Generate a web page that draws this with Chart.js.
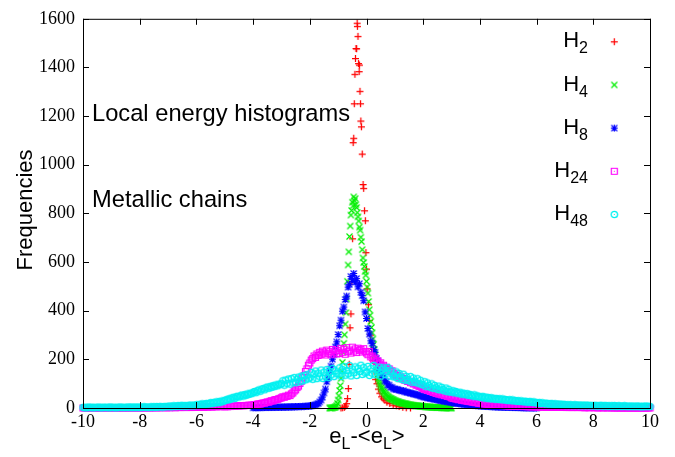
<!DOCTYPE html>
<html>
<head>
<meta charset="utf-8">
<script src="https://cdn.jsdelivr.net/npm/chart.js@4.4.1/dist/chart.umd.min.js"></script>
<style>
  html, body { margin: 0; padding: 0; background: #fff; }
  canvas { display: block; }
</style>
</head>
<body>
<canvas id="histo" width="675" height="457"></canvas>
<script>
// H2: sparse, irregular bins -> explicit (x, count) pairs
const h2X = [-0.90, -0.84, -0.78, -0.74, -0.70, -0.67, -0.64, -0.61, -0.58, -0.55,
  -0.52, -0.49, -0.47, -0.45, -0.43, -0.41, -0.39, -0.37, -0.35, -0.33,
  -0.32, -0.30, -0.28, -0.26, -0.25, -0.23, -0.21, -0.20, -0.18, -0.15,
  -0.12, -0.10, -0.07, -0.04, -0.02, 0.00, 0.02, 0.07, 0.10, 0.14,
  0.18, 0.22, 0.27, 0.32, 0.37, 0.42, 0.47, 0.53, 0.59, 0.65,
  0.72, 0.82, 0.94, 1.05, 1.15, 1.28, 1.40, 1.55];
const h2Y = [0, 1, 3, 8, 18, 39, 80, 180, 330, 387,
  520, 696, 1091, 1109, 1251, 1372, 1437, 1478, 1477, 1582,
  1569, 1528, 1416, 1383, 1410, 1302, 1251, 1180, 1156, 1044,
  919, 903, 811, 770, 639, 571, 490, 425, 360, 300,
  245, 195, 150, 118, 100, 78, 61, 46, 38, 32,
  24, 19, 12, 9, 6, 3, 1, 0];

// H4: bins of 0.025 starting at -1.3
const h4Start = -1.3, h4Step = 0.025;
const h4Counts = [0, 0, 1, 0, 1, 2, 2, 3, 4, 6,
  11, 19, 33, 50, 72, 92, 121, 152, 188, 229,
  266, 301, 345, 392, 448, 521, 588, 642, 705, 748,
  793, 812, 846, 831, 868, 852, 861, 836, 824, 803,
  786, 769, 744, 731, 702, 684, 651, 617, 598, 582,
  561, 546, 521, 497, 472, 438, 404, 381, 356, 331,
  309, 284, 262, 240, 219, 195, 172, 153, 136, 121,
  110, 99, 91, 84, 78, 73, 68, 64, 60, 56,
  53, 50, 47, 45, 42, 41, 39, 38, 36, 35,
  33, 32, 30, 29, 28, 27, 26, 25, 24, 23,
  22, 21, 21, 20, 19, 18, 18, 17, 16, 16,
  15, 14, 14, 13, 13, 12, 12, 11, 11, 11,
  10, 10, 9, 9, 9, 8, 8, 8, 7, 7,
  7, 7, 6, 6, 6, 5, 5, 5, 5, 4,
  4, 4, 4, 4, 3, 3, 3, 3, 3, 3,
  2, 2, 2, 2, 2, 2, 2, 2, 1, 2,
  1, 1, 1, 1, 1, 1, 1, 0, 1, 1,
  0, 1, 0];

// H8: bins of 0.05 starting at -4
const h8Start = -4, h8Step = 0.05;
const h8Counts = [1, 2, 1, 2, 2, 1, 2, 3, 2, 2, 3, 2, 3, 3, 2, 3, 4, 3, 3, 4,
  3, 4, 4, 3, 5, 4, 4, 5, 5, 4, 6, 5, 6, 6, 5, 7, 6, 7, 8, 7,
  8, 9, 10, 12, 13, 16, 19, 25, 33, 45, 62, 78, 108, 125, 153, 172, 201, 219, 251, 272,
  302, 338, 361, 398, 415, 446, 460, 497, 509, 541, 528, 553, 517, 532, 498, 511, 476, 462, 441, 395,
  368, 327, 304, 276, 266, 241, 229, 204, 193, 166, 155, 134, 128, 112, 108, 95, 94, 86, 85, 79,
  78, 76, 77, 73, 72, 70, 71, 67, 66, 64, 63, 61, 60, 58, 57, 55, 54, 52, 50, 48,
  46, 45, 44, 42, 41, 40, 39, 37, 36, 35, 34, 32, 31, 30, 29, 28, 27, 26, 25, 24,
  23, 22, 21, 20, 19, 18, 18, 17, 16, 15, 15, 14, 13, 13, 12, 11, 11, 10, 10, 9,
  9, 8, 8, 7, 7, 7, 6, 6, 6, 5, 5, 5, 5, 4, 4, 4, 4, 3, 3, 3,
  3, 3, 3, 2, 2, 2, 2, 2, 2, 1, 2, 1, 1, 1, 1, 1, 1, 1, 0, 1, 0];

// H24: bins of 0.05 over the full range
const h24Start = -10, h24Step = 0.05;
const h24Counts = [0, 1, 0, 0, 1, 0, 0, 1, 0, 0, 1, 0, 0, 0, 1, 0, 1, 0, 0, 1,
  0, 0, 1, 0, 1, 0, 0, 1, 0, 1, 0, 1, 0, 1, 1, 0, 1, 0, 1, 1,
  0, 1, 1, 0, 1, 1, 2, 0, 1, 1, 2, 1, 1, 2, 1, 2, 1, 2, 2, 1,
  2, 1, 2, 2, 3, 1, 2, 3, 2, 2, 3, 2, 3, 2, 3, 3, 2, 4, 3, 3,
  3, 4, 3, 4, 5, 3, 4, 5, 4, 5, 6, 4, 5, 6, 5, 6, 7, 5, 6, 7,
  5, 6, 5, 7, 6, 7, 8, 7, 8, 9, 8, 9, 10, 9, 10, 11, 10, 12, 11, 12,
  12, 14, 13, 16, 17, 16, 19, 21, 20, 23, 25, 24, 28, 30, 29, 33, 35, 34, 38, 40,
  42, 46, 44, 49, 48, 53, 51, 58, 62, 70, 75, 84, 90, 101, 110, 124, 133, 150, 161, 176,
  185, 197, 203, 214, 208, 222, 216, 229, 221, 234, 226, 218, 238, 225, 232, 219, 241, 227, 235, 222,
  236, 224, 245, 229, 240, 221, 248, 232, 238, 226, 250, 234, 243, 228, 246, 236, 241, 230, 244, 233,
  226, 219, 232, 210, 214, 200, 205, 190, 194, 181, 186, 172, 176, 165, 168, 157, 161, 150, 153, 143,
  138, 132, 134, 126, 128, 120, 122, 114, 116, 109, 110, 104, 105, 99, 100, 94, 95, 89, 90, 84,
  80, 76, 78, 72, 73, 68, 69, 64, 65, 60, 61, 57, 58, 54, 55, 51, 52, 48, 49, 45,
  42, 39, 40, 37, 37, 34, 35, 32, 32, 30, 30, 28, 28, 26, 26, 24, 24, 22, 22, 20,
  19, 18, 18, 17, 17, 16, 15, 15, 14, 14, 13, 13, 12, 12, 11, 11, 10, 10, 10, 9,
  9, 8, 9, 8, 8, 7, 8, 7, 7, 6, 7, 6, 6, 6, 5, 6, 5, 5, 6, 5,
  5, 4, 5, 4, 4, 4, 5, 3, 4, 4, 3, 4, 3, 4, 3, 3, 4, 3, 3, 3,
  3, 2, 3, 2, 3, 2, 2, 3, 2, 2, 3, 2, 2, 2, 1, 2, 2, 1, 2, 2,
  2, 1, 2, 1, 1, 2, 1, 1, 2, 1, 1, 1, 2, 1, 1, 0, 1, 1, 1, 0,
  1, 0, 1, 1, 0, 1, 0, 1, 0, 0, 1, 0, 0, 1, 0, 0, 1, 0, 0, 1, 0];

// H48: bins of 0.05 over the full range
const h48Start = -10, h48Step = 0.05;
const h48Counts = [2, 3, 1, 2, 4, 2, 3, 1, 3, 2, 2, 4, 2, 1, 3, 3, 2, 3, 1, 4,
  3, 2, 3, 1, 3, 2, 4, 3, 2, 3, 2, 3, 4, 2, 4, 3, 2, 4, 3, 2,
  4, 3, 3, 5, 3, 4, 3, 3, 5, 4, 5, 3, 6, 4, 5, 6, 4, 6, 5, 6,
  6, 8, 5, 7, 9, 6, 8, 10, 7, 9, 11, 8, 10, 8, 11, 9, 12, 10, 9, 12,
  13, 12, 15, 14, 17, 14, 16, 19, 16, 19, 22, 18, 23, 21, 25, 22, 27, 24, 29, 28,
  31, 34, 33, 38, 36, 41, 44, 39, 46, 48, 45, 50, 53, 49, 55, 52, 58, 56, 61, 59,
  65, 68, 63, 71, 74, 69, 77, 80, 75, 83, 86, 81, 89, 85, 92, 88, 95, 91, 98, 96,
  100, 112, 94, 115, 101, 119, 98, 121, 106, 125, 104, 118, 127, 108, 131, 112, 134, 116, 137, 120,
  124, 146, 118, 140, 152, 121, 143, 128, 156, 122, 147, 131, 158, 125, 150, 136, 162, 129, 153, 141,
  140, 165, 130, 157, 170, 135, 154, 141, 174, 132, 160, 145, 169, 134, 163, 150, 176, 138, 166, 144,
  148, 171, 134, 162, 143, 175, 137, 160, 147, 168, 131, 157, 165, 138, 152, 166, 131, 155, 140, 128,
  129, 148, 121, 142, 126, 117, 139, 114, 130, 118, 111, 129, 106, 123, 110, 104, 120, 100, 114, 97,
  95, 108, 88, 103, 92, 85, 99, 81, 93, 83, 77, 90, 74, 85, 76, 70, 82, 67, 77, 66,
  66, 71, 62, 68, 63, 59, 65, 57, 61, 58, 54, 59, 52, 56, 51, 49, 54, 47, 50, 46,
  46, 43, 48, 41, 45, 40, 43, 38, 42, 37, 40, 36, 39, 35, 38, 34, 37, 33, 35, 32,
  32, 34, 30, 33, 29, 31, 28, 30, 27, 29, 26, 28, 25, 27, 24, 26, 25, 23, 25, 22,
  22, 20, 23, 19, 21, 18, 20, 17, 19, 16, 18, 17, 15, 17, 16, 14, 16, 15, 13, 15,
  14, 12, 13, 12, 13, 12, 11, 13, 12, 11, 12, 10, 12, 11, 10, 12, 10, 11, 10, 9,
  10, 9, 11, 8, 10, 9, 11, 8, 9, 10, 8, 9, 7, 9, 8, 10, 7, 8, 9, 7,
  8, 7, 9, 6, 8, 7, 6, 8, 7, 6, 7, 8, 6, 7, 5, 7, 6, 8, 6, 7, 6];

const keySubs = ['2', '4', '8', '24', '48'];
const xTicks = { min: -10, max: 10, step: 2 };
const yTicks = { min: 0, max: 1600, step: 200 };

const sans = 'Liberation Sans';
const serif = 'Liberation Serif';

function binned(start, step, counts) {
  return counts.map((c, i) => ({ x: +(start + i * step).toFixed(3), y: c }));
}
function paired(xs, ys) {
  return xs.map((x, i) => ({ x: x, y: ys[i] }));
}

// gnuplot-like point glyphs, drawn once into small canvases
function glyph(color, width, paint) {
  const c = document.createElement('canvas');
  c.width = 9;
  c.height = 9;
  const g = c.getContext('2d');
  g.strokeStyle = color;
  g.fillStyle = color;
  g.lineWidth = width;
  g.beginPath();
  paint(g);
  g.stroke();
  return c;
}
const plus = (g) => { g.moveTo(1, 4.5); g.lineTo(8, 4.5); g.moveTo(4.5, 1); g.lineTo(4.5, 8); };
const cross = (g) => { g.moveTo(1.5, 1.5); g.lineTo(7.5, 7.5); g.moveTo(7.5, 1.5); g.lineTo(1.5, 7.5); };

const marks = [
  glyph('#ff0000', 1.25, plus),
  glyph('#00ee00', 1.2, cross),
  glyph('#0000ff', 1.2, (g) => { plus(g); cross(g); }),
  glyph('#ff00ff', 1.2, (g) => { g.rect(1.5, 1.5, 6, 6); g.fillRect(4, 4, 1, 1); }),
  glyph('#00f0f0', 1.3, (g) => { g.arc(4.5, 4.5, 3.2, 0, Math.PI * 2); g.fillRect(4, 4, 1, 1); }),
];

const seriesData = [
  paired(h2X, h2Y),
  binned(h4Start, h4Step, h4Counts),
  binned(h8Start, h8Step, h8Counts),
  binned(h24Start, h24Step, h24Counts),
  binned(h48Start, h48Step, h48Counts),
];

// later series sit on top, like gnuplot draws them
const datasets = seriesData.map((data, i) => ({
  label: 'H' + keySubs[i],
  data: data,
  pointStyle: marks[i],
  pointRadius: 3.5,
  showLine: false,
  clip: false,
  order: seriesData.length - i,
}));

const framePlugin = {
  id: 'frame',
  afterDatasetsDraw(chart) {
    const { ctx, chartArea: a, scales } = chart;
    ctx.save();
    ctx.strokeStyle = '#000';
    ctx.lineWidth = 1;
    ctx.beginPath();
    scales.x.ticks.forEach((t) => {
      const px = Math.round(scales.x.getPixelForValue(t.value)) + 0.5;
      ctx.moveTo(px, a.bottom);
      ctx.lineTo(px, a.bottom - 6);
      ctx.moveTo(px, a.top);
      ctx.lineTo(px, a.top + 6);
    });
    scales.y.ticks.forEach((t) => {
      const py = Math.round(scales.y.getPixelForValue(t.value)) + 0.5;
      ctx.moveTo(a.left, py);
      ctx.lineTo(a.left + 6, py);
      ctx.moveTo(a.right, py);
      ctx.lineTo(a.right - 6, py);
    });
    ctx.stroke();
    ctx.strokeRect(a.left + 0.5, a.top + 0.5, a.right - a.left, a.bottom - a.top);
    ctx.restore();
  },
};

const textPlugin = {
  id: 'texts',
  afterDraw(chart) {
    const ctx = chart.ctx;
    ctx.save();
    ctx.fillStyle = '#000';
    ctx.textBaseline = 'alphabetic';

    ctx.font = '23.7px ' + sans;
    ctx.textAlign = 'left';
    ctx.fillText('Local energy histograms', 92, 121);
    ctx.fillText('Metallic chains', 92, 207);

    // y title
    ctx.save();
    ctx.translate(32, 210);
    ctx.rotate(-Math.PI / 2);
    ctx.textAlign = 'center';
    ctx.font = '22px ' + sans;
    ctx.fillText('Frequencies', 0, 0);
    ctx.restore();

    // x title: e_L-<e_L>
    const parts = [['e', 0], ['L', 1], ['-<e', 0], ['L', 1], ['>', 0]];
    let w = 0;
    parts.forEach(([s, sub]) => {
      ctx.font = (sub ? '16px ' : '22px ') + sans;
      w += ctx.measureText(s).width;
    });
    let tx = 367 - w / 2;
    parts.forEach(([s, sub]) => {
      ctx.font = (sub ? '16px ' : '22px ') + sans;
      ctx.fillText(s, tx, sub ? 449 : 443);
      tx += ctx.measureText(s).width;
    });

    // key
    keySubs.forEach((sub, i) => {
      const y = 41.7 + i * 43.2;
      ctx.font = '16px ' + sans;
      const sw = ctx.measureText(sub).width;
      ctx.textAlign = 'left';
      ctx.fillText(sub, 588 - sw, y + 11.6);
      ctx.font = '22px ' + sans;
      ctx.textAlign = 'right';
      ctx.fillText('H', 588 - sw, y + 5.6);
      ctx.drawImage(marks[i], 614.3 - 4.5, y - 4.5);
    });
    ctx.restore();
  },
};

new Chart(document.getElementById('histo'), {
  type: 'scatter',
  data: { datasets: datasets },
  plugins: [framePlugin, textPlugin],
  options: {
    responsive: false,
    animation: false,
    devicePixelRatio: 1,
    events: [],
    layout: { padding: { left: 0, right: 25, top: 14, bottom: 0 } },
    plugins: {
      legend: { display: false },
      tooltip: { enabled: false },
    },
    scales: {
      x: {
        type: 'linear',
        min: xTicks.min,
        max: xTicks.max,
        grid: { display: false, drawTicks: false },
        border: { display: false },
        ticks: {
          stepSize: xTicks.step,
          padding: 3,
          maxRotation: 0,
          autoSkip: false,
          color: '#000',
          font: { family: serif, size: 18 },
          callback: (v) => String(v),
        },
        afterFit(scale) { scale.height = 49; },
      },
      y: {
        min: yTicks.min,
        max: yTicks.max,
        grid: { display: false, drawTicks: false },
        border: { display: false },
        ticks: {
          stepSize: yTicks.step,
          padding: 8,
          color: '#000',
          font: { family: serif, size: 18 },
          callback: (v) => String(v),
        },
        afterFit(scale) { scale.width = 83; },
      },
    },
  },
});
</script>
</body>
</html>
